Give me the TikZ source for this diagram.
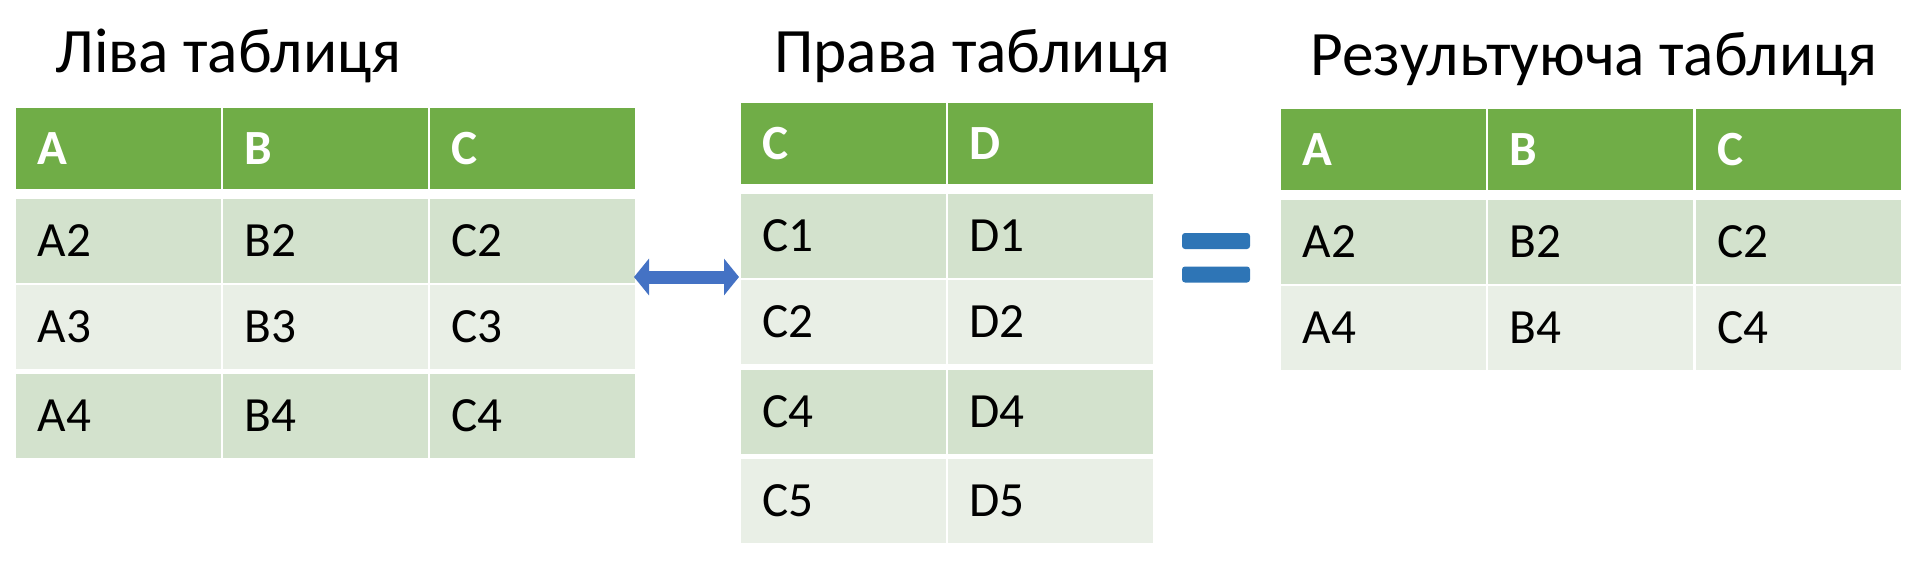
\documentclass[tikz,border=0pt]{standalone}
\usepackage{fontspec}
\setmainfont{Carlito}
\usetikzlibrary{arrows.meta}
\definecolor{hdrgreen}{HTML}{70AD47}
\definecolor{rowdark}{HTML}{D3E2CD}
\definecolor{rowlight}{HTML}{E9EFE6}
\definecolor{arrblue}{HTML}{4472C4}
\definecolor{eqblue}{HTML}{2E75B6}
\tikzset{
  cell/.style={anchor=north west, inner ysep=0pt, inner xsep=0.22cm,
    text width=1.61cm, minimum height=0.84cm, align=left,
    font=\fontsize{14}{14}\selectfont},
  hdr/.style={cell, fill=hdrgreen, text=white, minimum height=0.81cm,
    font=\bfseries\fontsize{14}{14}\selectfont},
  dark/.style={fill=rowdark},
  light/.style={fill=rowlight},
  title/.style={anchor=base west, font=\fontsize{18}{18}\selectfont},
  eqbar/.style={fill=eqblue, rounded corners=0.03cm, minimum width=0.68cm,
    minimum height=0.16cm, inner sep=0pt}
}
\begin{document}
\begin{tikzpicture}
\useasboundingbox (0,0) rectangle (19.11,-5.6);

\node[title] (tl) at (0.43,-0.72) {Ліва таблиця};
\node[title] (tm) at (7.62,-0.72) {Права таблиця};
\node[title] (tr) at (12.98,-0.75) {Результуюча таблиця};

% left table
\foreach \c/\x in {A/0.15,B/2.22,C/4.29}{
  \node[hdr] (lh\c) at (\x,-1.07) {\c};
  \foreach \r/\y/\s in {2/1.98/dark,3/2.84/light,4/3.73/dark}
    \node[cell,\s] (l\c\r) at (\x,-\y) {\c\r};
}

% right-hand table
\foreach \c/\x in {C/7.40,D/9.47}{
  \node[hdr] (mh\c) at (\x,-1.02) {\c};
  \foreach \r/\y/\s in {1/1.93/dark,2/2.79/light,4/3.69/dark,5/4.58/light}
    \node[cell,\s] (m\c\r) at (\x,-\y) {\c\r};
}

% result table
\foreach \c/\x in {A/12.80,B/14.87,C/16.95}{
  \node[hdr] (rh\c) at (\x,-1.08) {\c};
  \foreach \r/\y/\s in {2/1.99/dark,4/2.85/light}
    \node[cell,\s] (r\c\r) at (\x,-\y) {\c\r};
}

% join arrow
\coordinate (ja) at (6.34,-2.77);
\coordinate (jb) at (7.39,-2.77);
\draw[arrblue, line width=0.13cm,
  arrows={Triangle[length=0.15cm,width=0.36cm]-Triangle[length=0.15cm,width=0.36cm]}]
  (ja) -- (jb);

% equals sign
\node[eqbar] (eq1) at (12.16,-2.41) {};
\node[eqbar] (eq2) at (12.16,-2.745) {};
\end{tikzpicture}
\end{document}
